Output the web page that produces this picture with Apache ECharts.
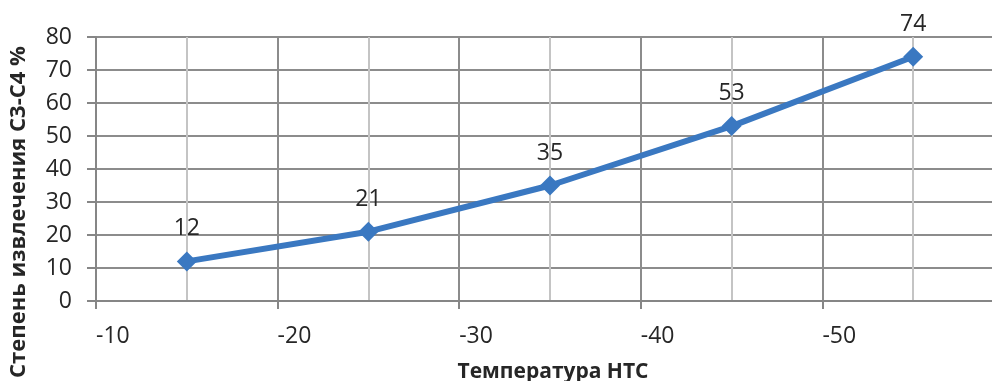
<!DOCTYPE html>
<html>
<head>
<meta charset="utf-8">
<script src="https://cdn.jsdelivr.net/npm/echarts@6/dist/echarts.min.js"></script>
<style>
  html, body { margin: 0; padding: 0; background: #fff; }
  #chart { width: 992px; height: 381px; }
</style>
</head>
<body>
<div id="chart"></div>
<script>
// Temperature of the low-temperature separation stage, °C
const temperatures = [-15, -25, -35, -45, -55];
// C3-C4 recovery degree, %
const recovery = [12, 21, 35, 53, 74];
// Axis ranges and tick steps
const xRange = [-60, -10];
const xStep = 10;
const yRange = [0, 80];
const yStep = 10;

const xTitle = 'Температура НТС';
const yTitle = 'Степень извлечения С3-С4 %';

const FONT = '"Open Sans", "Noto Sans", sans-serif';
const TEXT = '#262626';
const LINE = '#3a78c1';
const GRID = '#8c8c8c';

const chart = echarts.init(document.getElementById('chart'), null, { renderer: 'canvas' });

chart.setOption({
  animation: false,
  backgroundColor: '#ffffff',
  grid: { left: 96, right: -12, top: 37, bottom: 80, containLabel: false, outerBoundsMode: 'none' },
  xAxis: {
    type: 'value',
    inverse: true,
    min: xRange[0],
    max: xRange[1],
    interval: xStep,
    axisLine: { show: true, onZero: false, lineStyle: { color: '#868686', width: 2 } },
    axisTick: { show: true, length: 8, lineStyle: { color: '#868686', width: 2 } },
    axisLabel: {
      color: TEXT, fontFamily: FONT, fontSize: 23, align: 'left', margin: 24,
      formatter: v => (v === xRange[0] ? '' : String(v))
    },
    splitLine: { show: true, lineStyle: { color: GRID, width: 2 } },
    minorTick: { show: false, splitNumber: 2 },
    minorSplitLine: { show: true, lineStyle: { color: '#c4c4c4', width: 2 } }
  },
  yAxis: {
    type: 'value',
    min: yRange[0],
    max: yRange[1],
    interval: yStep,
    axisLine: { show: true, lineStyle: { color: '#868686', width: 2 } },
    axisTick: { show: true, length: 9, lineStyle: { color: '#868686', width: 2 } },
    axisLabel: { color: TEXT, fontFamily: FONT, fontSize: 23, margin: 24 },
    splitLine: { show: true, lineStyle: { color: GRID, width: 2 } }
  },
  series: [{
    type: 'line',
    data: temperatures.map((t, i) => [t, recovery[i]]),
    symbol: 'diamond',
    symbolSize: 20,
    lineStyle: { color: LINE, width: 6 },
    itemStyle: { color: LINE },
    label: {
      show: true,
      position: 'top',
      distance: 11,
      color: TEXT,
      fontFamily: FONT,
      fontSize: 23,
      formatter: p => p.value[1]
    },
    z: 5
  }],
  graphic: [
    {
      type: 'text',
      x: 553, y: 372,
      style: {
        text: xTitle, fill: TEXT, font: 'bold 21px ' + FONT,
        align: 'center', verticalAlign: 'middle'
      }
    },
    {
      type: 'text',
      x: 19, y: 212,
      rotation: Math.PI / 2,
      style: {
        text: yTitle, fill: TEXT, font: 'bold 22px ' + FONT,
        align: 'center', verticalAlign: 'middle'
      }
    }
  ]
});
</script>
</body>
</html>
